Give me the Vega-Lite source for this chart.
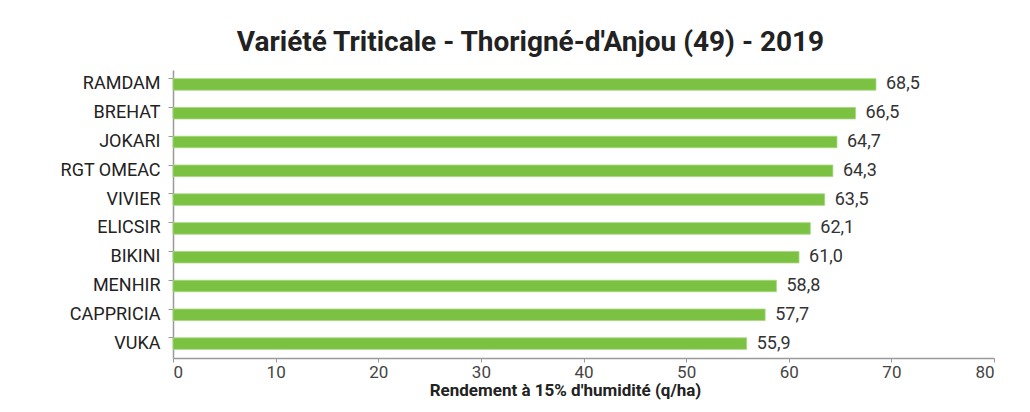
{
  "$schema": "https://vega.github.io/schema/vega-lite/v6.json",
  "width": 821,
  "height": 288,
  "padding": {"left": 173, "top": 70, "right": 36, "bottom": 54},
  "autosize": {"type": "none"},
  "background": "white",
  "config": {
    "view": {"stroke": null},
    "font": "Roboto",
    "locale": {"number": {"decimal": ",", "thousands": " ", "grouping": [3], "currency": ["", " €"]}}
  },
  "title": {
    "text": "Variété Triticale - Thorigné-d'Anjou (49) - 2019",
    "fontSize": 28,
    "fontWeight": "bold",
    "color": "#222222",
    "anchor": "middle",
    "dx": -53,
    "offset": 13
  },
  "data": {
    "values": [
      {"variete": "RAMDAM", "rendement": 68.5},
      {"variete": "BREHAT", "rendement": 66.5},
      {"variete": "JOKARI", "rendement": 64.7},
      {"variete": "RGT OMEAC", "rendement": 64.3},
      {"variete": "VIVIER", "rendement": 63.5},
      {"variete": "ELICSIR", "rendement": 62.1},
      {"variete": "BIKINI", "rendement": 61.0},
      {"variete": "MENHIR", "rendement": 58.8},
      {"variete": "CAPPRICIA", "rendement": 57.7},
      {"variete": "VUKA", "rendement": 55.9}
    ]
  },
  "encoding": {
    "y": {
      "field": "variete",
      "type": "nominal",
      "sort": null,
      "scale": {"paddingInner": 0.6, "paddingOuter": 0.3},
      "axis": {
        "title": null,
        "labelFontSize": 18,
        "labelColor": "#222222",
        "labelPadding": 8,
        "domainColor": "#9a9a9a",
        "domainWidth": 1.5,
        "tickColor": "#9a9a9a",
        "tickSize": 5,
        "tickWidth": 1,
        "bandPosition": 0
      }
    },
    "x": {
      "field": "rendement",
      "type": "quantitative",
      "scale": {"domain": [0, 80]},
      "axis": {
        "title": "Rendement à 15% d'humidité (q/ha)",
        "titleFontSize": 17,
        "titleFontWeight": "bold",
        "titleColor": "#222222",
        "titlePadding": 2,
        "titleX": 392,
        "values": [0, 10, 20, 30, 40, 50, 60, 70, 80],
        "format": "d",
        "grid": false,
        "labelFontSize": 17,
        "labelColor": "#444444",
        "domainColor": "#9a9a9a",
        "domainWidth": 1.5,
        "tickColor": "#9a9a9a",
        "tickSize": 4,
        "labelPadding": 2
      }
    }
  },
  "layer": [
    {"mark": {"type": "bar", "color": "#7bc242", "stroke": "#a6d77e", "strokeWidth": 0.8}},
    {
      "mark": {"type": "text", "align": "left", "baseline": "middle", "dx": 10, "fontSize": 18, "color": "#333333"},
      "encoding": {"text": {"field": "rendement", "type": "quantitative", "format": ".1f"}}
    }
  ]
}
